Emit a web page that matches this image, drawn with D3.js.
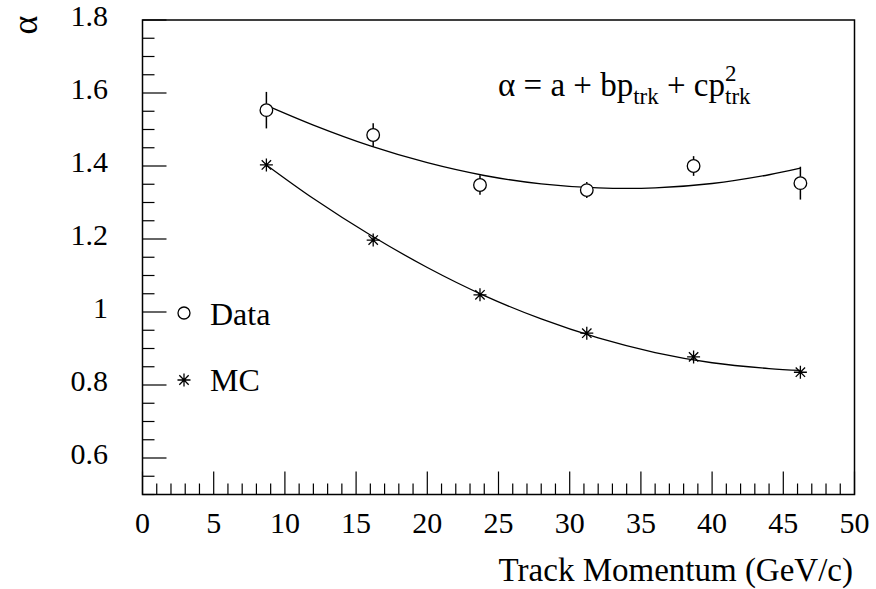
<!DOCTYPE html>
<html><head><meta charset="utf-8">
<script src="https://cdn.jsdelivr.net/npm/d3@7"></script>
<style>body{margin:0;background:#fff}svg{display:block}text{font-family:"Liberation Serif","Times New Roman",serif;fill:#000}</style>
</head><body>
<svg id="c" width="876" height="589"></svg>
<script>
// ---- data ----
const momentum = [8.7, 16.2, 23.7, 31.2, 38.7, 46.2];
const dataAlpha = [1.553, 1.485, 1.348, 1.334, 1.400, 1.353];
const dataErr   = [0.050, 0.032, 0.027, 0.022, 0.027, 0.045];
const mcAlpha   = [1.403, 1.197, 1.047, 0.942, 0.877, 0.835];
const mcErr     = [0.006, 0.004, 0.004, 0.004, 0.004, 0.005];
const fitX      = [8.7, 12, 16, 20, 24, 28, 32, 36, 40, 44, 46.2];
const dataFitY  = [1.566, 1.512, 1.455, 1.409, 1.374, 1.351, 1.340, 1.340, 1.352, 1.376, 1.394];
const mcFitY    = [1.403, 1.311, 1.211, 1.122, 1.045, 0.981, 0.929, 0.889, 0.861, 0.845, 0.840];
const xTicks = [0, 5, 10, 15, 20, 25, 30, 35, 40, 45, 50];
const yTicks = [0.6, 0.8, 1.0, 1.2, 1.4, 1.6, 1.8];
const legendLabels = ["Data", "MC"];

const svg = d3.select("#c");
const L = 142.5, R = 854.5, T = 20, B = 494.5;
const x = d3.scaleLinear().domain([0, 50]).range([L, R]);
const y = d3.scaleLinear().domain([0.5, 1.8]).range([B, T]);

const xMinor = d3.range(0, 51, 1);
const yMinor = d3.range(0, 27).map(i => 0.5 + i * 0.05);

const g = svg.append("g");
g.selectAll(".xm").data(xMinor).enter().append("line")
  .attr("x1", d => x(d)).attr("x2", d => x(d))
  .attr("y1", B).attr("y2", d => B - (d % 5 === 0 ? 23 : 11))
  .attr("stroke", "#000").attr("stroke-width", 1.2);
g.selectAll(".ym").data(yMinor).enter().append("line")
  .attr("y1", d => y(d)).attr("y2", d => y(d))
  .attr("x1", L).attr("x2", d => L + (Math.abs(Math.round(d * 5) - d * 5) < 1e-6 ? 24 : 12))
  .attr("stroke", "#000").attr("stroke-width", 1.2);

svg.append("rect").attr("x", L).attr("y", T).attr("width", R - L).attr("height", B - T)
  .attr("fill", "none").attr("stroke", "#000").attr("stroke-width", 1.5);

svg.selectAll(".xl").data(xTicks).enter().append("text")
  .attr("x", d => x(d)).attr("y", B + 38).attr("text-anchor", "middle")
  .attr("font-size", 30).text(d => d);
svg.selectAll(".yl").data(yTicks).enter().append("text")
  .attr("x", 108).attr("y", d => y(d) + 6).attr("text-anchor", "end")
  .attr("font-size", 30).text(d => d3.format("~g")(d));

svg.append("text").attr("x", 853).attr("y", 581).attr("text-anchor", "end")
  .attr("font-size", 33).text("Track Momentum (GeV/c)");
svg.append("text").attr("transform", "translate(37,25) rotate(-90)")
  .attr("text-anchor", "middle").attr("font-size", 36).text("α");

const f = svg.append("text").attr("x", 498).attr("y", 96).attr("font-size", 33);
f.append("tspan").text("α = a + bp");
f.append("tspan").attr("font-size", 23).attr("dy", 8).text("trk");
f.append("tspan").attr("dy", -8).text(" + cp");
f.append("tspan").attr("font-size", 23).attr("dy", -15).text("2");
f.append("tspan").attr("font-size", 23).attr("dx", -11.5).attr("dy", 23).text("trk");

const line = d3.line().x(d => x(d[0])).y(d => y(d[1])).curve(d3.curveCatmullRom);
svg.append("path").attr("d", line(fitX.map((v, i) => [v, dataFitY[i]])))
  .attr("fill", "none").attr("stroke", "#000").attr("stroke-width", 1.3);
svg.append("path").attr("d", line(fitX.map((v, i) => [v, mcFitY[i]])))
  .attr("fill", "none").attr("stroke", "#000").attr("stroke-width", 1.3);

const rC = 6.3;
momentum.forEach((m, i) => {
  const cx = x(m), cy = y(dataAlpha[i]);
  const top = y(dataAlpha[i] + dataErr[i]), bot = y(dataAlpha[i] - dataErr[i]);
  if (cy - rC > top) svg.append("line").attr("x1", cx).attr("x2", cx).attr("y1", top).attr("y2", cy - rC).attr("stroke", "#000").attr("stroke-width", 1.5);
  if (bot > cy + rC) svg.append("line").attr("x1", cx).attr("x2", cx).attr("y1", cy + rC).attr("y2", bot).attr("stroke", "#000").attr("stroke-width", 1.5);
});

function star(sel, cx, cy, s) {
  const d = s * 0.72;
  const p = `M${cx - s},${cy}L${cx + s},${cy}M${cx},${cy - s}L${cx},${cy + s}M${cx - d},${cy - d}L${cx + d},${cy + d}M${cx - d},${cy + d}L${cx + d},${cy - d}`;
  sel.append("path").attr("d", p).attr("stroke", "#000").attr("stroke-width", 1.3).attr("fill", "none");
}
svg.selectAll(".dp").data(momentum).enter().append("circle")
  .attr("cx", d => x(d)).attr("cy", (d, i) => y(dataAlpha[i])).attr("r", rC)
  .attr("fill", "#fff").attr("stroke", "#000").attr("stroke-width", 1.3);
momentum.forEach((m, i) => star(svg, x(m), y(mcAlpha[i]), 6.5));

svg.append("circle").attr("cx", 184).attr("cy", 313).attr("r", 6)
  .attr("fill", "#fff").attr("stroke", "#000").attr("stroke-width", 1.3);
svg.append("text").attr("x", 210).attr("y", 325).attr("font-size", 32).text(legendLabels[0]);
star(svg, 184, 380, 6.5);
svg.append("text").attr("x", 210).attr("y", 391).attr("font-size", 32).text(legendLabels[1]);
</script>
</body></html>
